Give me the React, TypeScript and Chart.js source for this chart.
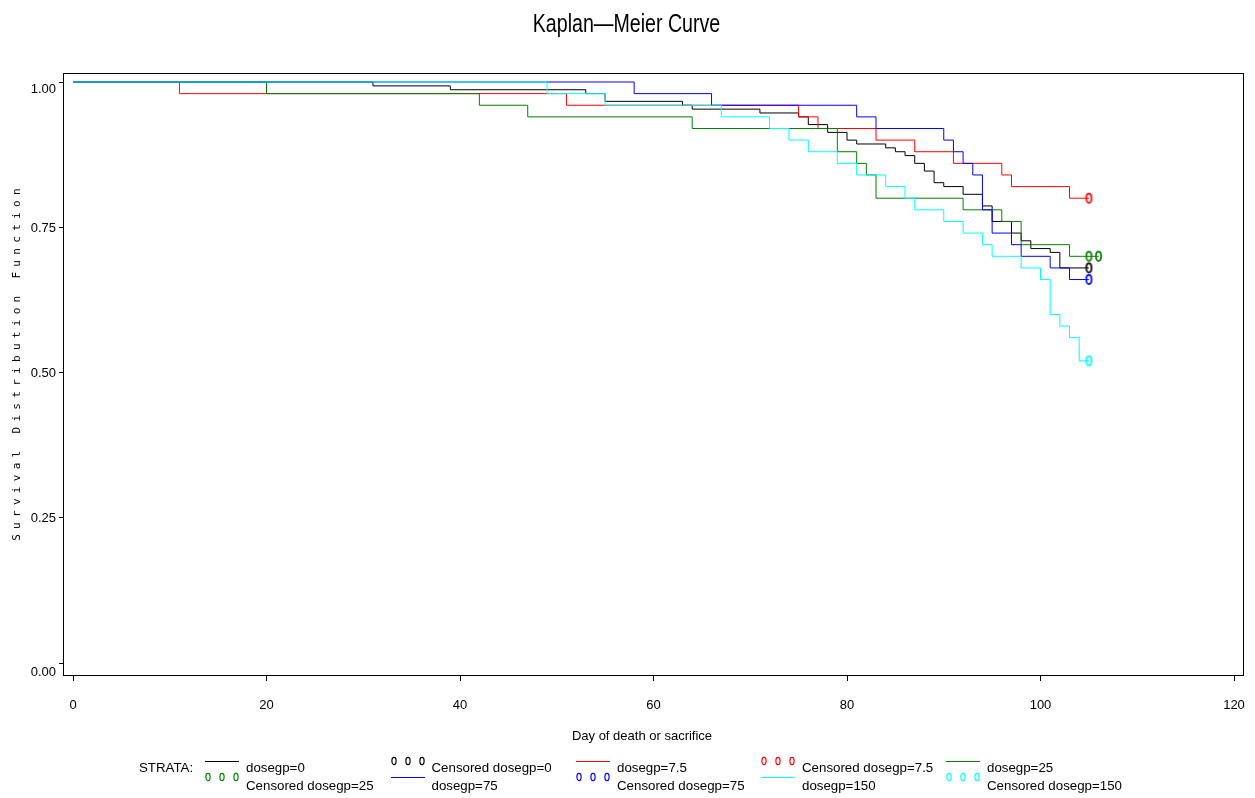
import React, { useEffect, useRef } from "react";
import { Chart, registerables } from "chart.js";

Chart.register(...registerables);

const chartTitle = "Kaplan\u2014Meier Curve";
const xAxisTitle = "Day of death or sacrifice";
const yAxisTitle = "Survival Distribution Function";
const legendHeading = "STRATA:";

const xTickValues = [0, 20, 40, 60, 80, 100, 120];
const yTickValues = [0, 0.25, 0.5, 0.75, 1];

// dosegp=0
const dose0Days = [0, 31, 39, 53, 55, 63, 64, 71, 75, 76, 78, 80, 81, 84, 85, 86, 87, 88, 89, 90, 92, 94, 95, 97, 98, 99, 101, 102, 105];
const dose0Surv = [1, 0.9933, 0.9867, 0.98, 0.9667, 0.96, 0.9533, 0.9467, 0.94, 0.9267, 0.9133, 0.9, 0.8933, 0.8867, 0.88, 0.8733, 0.86, 0.8467, 0.8267, 0.82, 0.8067, 0.7867, 0.76, 0.74, 0.7267, 0.7133, 0.7067, 0.68, 0.68];
const dose0CensorDays = [105];
const dose0CensorSurv = [0.68];

// dosegp=7.5
const dose7Days = [0, 11, 51, 75, 77, 83, 87, 91, 96, 97, 103, 105];
const dose7Surv = [1, 0.98, 0.96, 0.94, 0.92, 0.9, 0.88, 0.86, 0.84, 0.82, 0.8, 0.8];
const dose7CensorDays = [105];
const dose7CensorSurv = [0.8];

// dosegp=25
const dose25Days = [0, 20, 42, 47, 64, 79, 81, 82, 83, 92, 96, 98, 103, 106];
const dose25Surv = [1, 0.98, 0.96, 0.94, 0.92, 0.88, 0.86, 0.84, 0.8, 0.78, 0.76, 0.72, 0.7, 0.7];
const dose25CensorDays = [105, 106];
const dose25CensorSurv = [0.7, 0.7];

// dosegp=75
const dose75Days = [0, 58, 66, 81, 83, 90, 91, 92, 93, 94, 95, 97, 98, 101, 103, 105];
const dose75Surv = [1, 0.98, 0.96, 0.94, 0.92, 0.9, 0.88, 0.86, 0.84, 0.78, 0.74, 0.72, 0.7, 0.68, 0.66, 0.66];
const dose75CensorDays = [105];
const dose75CensorSurv = [0.66];

// dosegp=150
const dose150Days = [0, 49, 55, 67, 72, 74, 76, 79, 81, 84, 86, 87, 90, 92, 94, 95, 98, 100, 101, 102, 103, 104, 105];
const dose150Surv = [1, 0.98, 0.96, 0.94, 0.92, 0.9, 0.88, 0.86, 0.84, 0.82, 0.8, 0.78, 0.76, 0.74, 0.72, 0.7, 0.68, 0.66, 0.6, 0.58, 0.56, 0.52, 0.52];
const dose150CensorDays = [105];
const dose150CensorSurv = [0.52];

const groups = [
  { name: "dosegp=0", color: "#000000", days: dose0Days, surv: dose0Surv, cDays: dose0CensorDays, cSurv: dose0CensorSurv },
  { name: "dosegp=7.5", color: "#ff0000", days: dose7Days, surv: dose7Surv, cDays: dose7CensorDays, cSurv: dose7CensorSurv },
  { name: "dosegp=25", color: "#008000", days: dose25Days, surv: dose25Surv, cDays: dose25CensorDays, cSurv: dose25CensorSurv },
  { name: "dosegp=75", color: "#0000ff", days: dose75Days, surv: dose75Surv, cDays: dose75CensorDays, cSurv: dose75CensorSurv },
  { name: "dosegp=150", color: "#00ffff", days: dose150Days, surv: dose150Surv, cDays: dose150CensorDays, cSurv: dose150CensorSurv },
];

const FONT = "'Liberation Sans', Arial, Helvetica, sans-serif";

// vertical nudge of y tick labels (SAS keeps end labels inside the axis)
const yLabelNudge = [9, 1, 1, 1, 7];

function makeMarker(color: string): HTMLCanvasElement {
  const c = document.createElement("canvas");
  c.width = 9;
  c.height = 13;
  const ctx = c.getContext("2d")!;
  ctx.strokeStyle = color;
  ctx.lineWidth = 1.7;
  ctx.beginPath();
  ctx.ellipse(4.5, 6.5, 2.6, 4.6, 0, 0, Math.PI * 2);
  ctx.stroke();
  return c;
}

const framePlugin = {
  id: "frame",
  afterDatasetsDraw(chart: any) {
    const { ctx, chartArea } = chart;
    const { left, top, right, bottom } = chartArea;
    ctx.save();
    ctx.strokeStyle = "#000";
    ctx.lineWidth = 1;
    ctx.strokeRect(Math.round(left) + 0.5, Math.round(top) + 0.5, Math.round(right - left), Math.round(bottom - top));
    ctx.restore();
  },
  afterDraw(chart: any) {
    const { ctx, chartArea } = chart;
    const ys = chart.scales.y;
    ctx.save();
    ctx.fillStyle = "#000";
    ctx.font = "13px " + FONT;
    ctx.textAlign = "right";
    ctx.textBaseline = "middle";
    yTickValues.forEach((v, i) => {
      const py = ys.getPixelForValue(v) + yLabelNudge[i];
      ctx.fillText(v.toFixed(2), chartArea.left - 7, py);
    });
    ctx.restore();
  },
};

// baseline -> top for HTML text
function topFor(baseline: number, fs: number, lh: number) {
  return baseline - ((lh - 1.117 * fs) / 2 + 0.905 * fs);
}

function LegendSymbol({ kind, color }: { kind: string; color: string }) {
  if (kind === "line") {
    return (
      <svg width={34} height={12} style={{ display: "block" }}>
        <line x1={0} y1={6.5} x2={34} y2={6.5} stroke={color} strokeWidth={1} />
      </svg>
    );
  }
  return (
    <svg width={34} height={12} style={{ display: "block" }}>
      {[3, 17, 31].map((cx) => (
        <ellipse key={cx} cx={cx} cy={6} rx={2.1} ry={3.6} fill="none" stroke={color} strokeWidth={1.2} />
      ))}
    </svg>
  );
}

export default function App() {
  const ref = useRef<HTMLCanvasElement>(null);

  useEffect(() => {
    const canvas = ref.current!;
    const datasets: any[] = [];
    groups.forEach((g, i) => {
      datasets.push({
        type: "line",
        label: g.name,
        data: g.days.map((d, k) => ({ x: d, y: g.surv[k] })),
        borderColor: g.color,
        backgroundColor: g.color,
        borderWidth: 1,
        pointRadius: 0,
        stepped: "before",
        fill: false,
        order: 10 + (groups.length - 1 - i),
      });
    });
    groups.forEach((g, i) => {
      datasets.push({
        type: "line",
        label: "Censored " + g.name,
        data: g.cDays.map((d, k) => ({ x: d, y: g.cSurv[k] })),
        showLine: false,
        pointStyle: makeMarker(g.color),
        pointRadius: 5,
        borderColor: g.color,
        backgroundColor: g.color,
        order: groups.length - 1 - i,
      });
    });

    const tickFont = { family: FONT, size: 13 };
    const chart = new Chart(canvas, {
      type: "line",
      data: { datasets },
      options: {
        animation: false,
        responsive: false,
        maintainAspectRatio: false,
        layout: { padding: { left: 0, top: 73, right: 12, bottom: 83 } },
        plugins: { legend: { display: false }, tooltip: { enabled: false }, title: { display: false } },
        scales: {
          x: {
            type: "linear",
            min: -1.034,
            max: 120.93,
            afterBuildTicks: (axis: any) => {
              axis.ticks = xTickValues.map((v) => ({ value: v }));
            },
            afterFit: (s: any) => {
              s.height = 40;
              s.paddingLeft = 0;
              s.paddingRight = 0;
            },
            grid: { display: true, drawOnChartArea: false, drawTicks: true, tickLength: 6, color: "#000", lineWidth: 1 },
            border: { display: false },
            ticks: {
              font: tickFont,
              color: "#000",
              padding: 17,
              maxRotation: 0,
              autoSkip: false,
              callback: (v: any) => String(v),
            },
          },
          y: {
            type: "linear",
            min: -0.02065,
            max: 1.0155,
            afterBuildTicks: (axis: any) => {
              axis.ticks = yTickValues.map((v) => ({ value: v }));
            },
            afterFit: (s: any) => {
              s.width = 63;
              s.paddingTop = 0;
              s.paddingBottom = 0;
            },
            grid: { display: true, drawOnChartArea: false, drawTicks: true, tickLength: 4, color: "#000", lineWidth: 1 },
            border: { display: false },
            ticks: {
              display: false,
              font: tickFont,
              color: "#000",
              padding: 3,
              autoSkip: false,
            },
          },
        },
      } as any,
      plugins: [framePlugin],
    });
    return () => chart.destroy();
  }, []);

  const legendFs = 13.3;
  const legendLh = 16;
  const rowBaselines = [772.3, 790.2];
  const rowSymbolY = [761, 777];
  const colTextX = [246, 431.5, 617, 802, 987];

  const legendEntries: { label: string; kind: string; color: string }[] = [];
  groups.forEach((g) => {
    legendEntries.push({ label: g.name, kind: "line", color: g.color });
    legendEntries.push({ label: "Censored " + g.name, kind: "circles", color: g.color });
  });

  return (
    <div style={{ position: "fixed", left: 0, top: 0, width: 1255, height: 798, background: "#fff", overflow: "hidden" }}>
      <canvas ref={ref} width={1255} height={798} style={{ position: "absolute", left: 0, top: 0, width: 1255, height: 798 }} />
      {/* Title */}
      <div
        style={{
          position: "absolute",
          left: 0,
          width: 1253,
          top: topFor(32, 26.5, 30),
          height: 30,
          lineHeight: "30px",
          fontSize: 26.5,
          fontFamily: FONT,
          color: "#000",
          textAlign: "center",
          whiteSpace: "nowrap",
          transform: "scaleX(0.74)",
          transformOrigin: "626.5px 50%",
        }}
      >
        {chartTitle}
      </div>
      {/* X axis title */}
      <div
        style={{
          position: "absolute",
          left: 442,
          width: 400,
          top: topFor(741, 13, 16),
          lineHeight: "16px",
          fontSize: 13,
          fontFamily: FONT,
          color: "#000",
          textAlign: "center",
          whiteSpace: "nowrap",
        }}
      >
        {xAxisTitle}
      </div>
      {/* Y axis title */}
      <div
        style={{
          position: "absolute",
          left: 17 - 200,
          top: 362 - 8,
          width: 400,
          height: 16,
          lineHeight: "16px",
          fontSize: 11,
          fontFamily: "'DejaVu Sans Mono', monospace",
          letterSpacing: "5.3px",
          color: "#000",
          textAlign: "center",
          whiteSpace: "nowrap",
          transform: "rotate(-90deg)",
          transformOrigin: "50% 50%",
        }}
      >
        {yAxisTitle}
      </div>
      {/* Legend */}
      <div
        style={{
          position: "absolute",
          left: 139,
          top: topFor(rowBaselines[0], legendFs, legendLh),
          lineHeight: legendLh + "px",
          fontSize: legendFs,
          fontFamily: FONT,
          color: "#000",
          whiteSpace: "nowrap",
        }}
      >
        {legendHeading}
      </div>
      {legendEntries.map((e, idx) => {
        const row = Math.floor(idx / 5);
        const col = idx % 5;
        const tx = colTextX[col];
        return (
          <React.Fragment key={e.label}>
            <div style={{ position: "absolute", left: tx - 41, top: rowSymbolY[row] - 6.5 }}>
              <LegendSymbol kind={e.kind} color={e.color} />
            </div>
            <div
              style={{
                position: "absolute",
                left: tx,
                top: topFor(rowBaselines[row], legendFs, legendLh),
                lineHeight: legendLh + "px",
                fontSize: legendFs,
                fontFamily: FONT,
                color: "#000",
                whiteSpace: "nowrap",
              }}
            >
              {e.label}
            </div>
          </React.Fragment>
        );
      })}
    </div>
  );
}
